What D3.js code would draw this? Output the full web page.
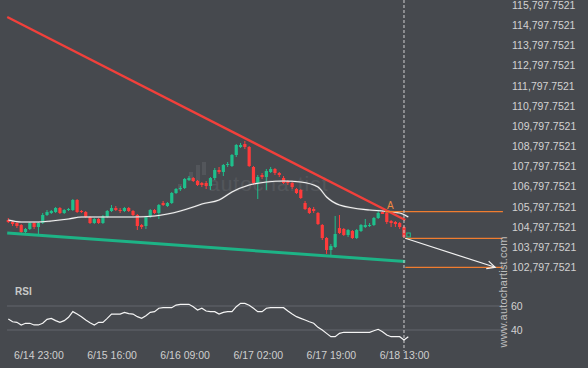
<!DOCTYPE html>
<html><head><meta charset="utf-8">
<script src="https://cdn.jsdelivr.net/npm/d3@7"></script>
<style>html,body{margin:0;padding:0;background:#46494e;}svg{display:block;}</style>
</head><body><svg id="c" width="588" height="368"></svg>
<script>
// ---- data ----
const openV = [105142,105043,104993,104894,104547,104696,104993,104795,104993,105390,
105489,105538,105737,105489,105637,105637,106133,105588,105538,105290,
104993,105191,104993,105290,105588,105737,105637,105588,105737,105588,
105390,104894,104844,105290,105637,105489,105984,105836,105984,106480,
106678,106728,107124,107223,107075,106976,106976,106827,107223,107620,
107521,107868,107818,108363,108760,108908,108760,107769,106976,107372,
107273,107521,107669,107471,107223,107075,106976,106678,106629,105984,
105737,105687,105489,104894,104250,103655,103804,104745,104696,104398,
104597,104250,104597,104795,104844,104894,105241,105538,105489,105092,
105043,104993,104795];
const highV = [105241,105092,105043,104944,104745,105043,105043,105043,105489,105637,
105637,105786,105786,105687,105737,106183,106183,105637,105588,105340,
105241,105241,105390,105637,105885,105836,105737,105786,105786,105637,
105439,104944,105340,105687,105687,105935,106083,106034,106529,106728,
106827,107223,107322,107273,107124,107025,107075,107273,107719,107769,
107917,108016,108413,108908,108958,109057,108809,107818,107372,107471,
107669,107769,107719,107521,107322,107124,107025,106728,106678,106083,
105786,105786,105538,104944,104299,103952,105340,105390,104745,104696,
104646,104696,104944,105191,104993,105290,105588,105588,105538,105142,
105092,105043,104844];
const lowV = [104993,104844,104745,104448,104448,104646,104696,104448,104944,105340,
105439,105489,105439,105439,105588,105588,105489,105489,105241,104944,
104944,104944,104944,105241,105538,105588,105489,105538,105538,105340,
104646,104696,104696,105241,105439,105191,105836,105786,105935,106430,
106579,106678,107075,107025,106827,106777,106678,106629,107124,107422,
107322,107769,107769,108264,108710,108661,107769,106876,106183,107174,
106629,107471,107372,107273,106926,106876,106678,106430,106183,105637,
105439,105489,104894,104151,103457,103407,103754,104448,104349,104299,
104200,104200,104547,104745,104795,104844,105191,105439,104944,104795,
104795,104696,104250];
const closeV = [105043,104944,104844,104547,104696,104993,104795,104993,105390,105538,
105588,105737,105489,105637,105687,106133,105538,105538,105290,104993,
105191,104993,105340,105588,105737,105637,105588,105737,105588,105390,
104844,104795,105290,105637,105489,105885,105885,105984,106480,106678,
106728,107174,107223,107075,106876,106876,106827,107223,107620,107521,
107868,107917,108363,108859,108859,108760,107818,106976,107273,107273,
107570,107669,107471,107372,106976,106976,106777,106480,106232,105687,
105489,105588,104944,104250,103655,103853,104448,104498,104398,104646,
104250,104646,104894,104894,104894,105241,105489,105439,105043,104993,
104944,104795,104299];
const lastCandle = {open:104299, close:104498};   // forming candle after the cursor line

const maIdx = [0,3,7,10,14,17,21,25,29,34,37,40,43,45,49,52,56,60,64,68,72,74,77,84,87,91,93];
const maVal = [105142,105043,105043,105092,105191,105290,105290,105290,105290,105340,105439,105588,105786,105935,106133,106529,106876,107025,107075,107025,106777,106282,105885,105637,105588,105489,105290];

const rsiV = [49.2,46.9,46.4,44.2,45.6,45.6,44.2,44.2,45.6,48.9,
49.7,47.8,46.4,47.8,50.6,55.3,53.3,51.1,48.3,46.1,
44.2,46.4,46.4,49.7,53.3,53.3,53.3,54.7,53.6,53.3,
51.1,49.7,51.9,54.7,55.3,58.1,58.6,58.6,58.6,60.8,
61.4,61.4,61.4,59.4,56.7,58.1,55.8,55.3,55.3,53.3,
54.7,55.3,55.3,59.4,62.2,62.2,60.6,58.1,55.3,55.3,
58.1,58.6,58.6,58.6,58.6,55.8,53.3,51.1,49.7,48.3,
46.9,45.6,42.2,40.0,37.2,34.4,34.4,37.2,38.1,38.1,
38.1,38.1,38.1,38.1,38.1,39.4,40.6,38.6,35.8,34.4,
34.4,34.4,31.7,34.4];

const timeTickIdx = [7,24,41,58,75,92];
const timeTickLabels = ["6/14 23:00","6/15 16:00","6/16 09:00","6/17 02:00","6/17 19:00","6/18 13:00"];
const priceTicks = [102797.7521,103797.7521,104797.7521,105797.7521,106797.7521,107797.7521,108797.7521,
  109797.7521,110797.7521,111797.7521,112797.7521,113797.7521,114797.7521,115797.7521];
const rsiTicks = [40,60];

const resistance = [[-0.25,115202],[92.3,105142]];
const support = [[-0.25,104498],[92.3,103085]];
const levelA = {from:87.6, to:115, value:105553, label:"A", labelAt:88.8};
const levelEntry = {from:92.3, to:115, value:104235};
const levelTarget = {from:92.3, to:115, value:102797.7521};
const forecast = [[92.3,104235],[113.2,102797.7521]];
const cursorIdx = 92.0;

// ---- scales ----
const svg = d3.select("#c");
const x = d3.scaleLinear().domain([0,93]).range([8.3,408.3]);
const y = d3.scaleLinear().domain([102797.7521,115797.7521]).range([267.3,5]);
const r = d3.scaleLinear().domain([40,60]).range([330,306]);
const font = "'Liberation Sans', Arial, sans-serif";
const GREEN = "#1fbf8c", RED = "#ff3b3b", ORANGE = "#f07d30";

svg.append("rect").attr("width",588).attr("height",368).attr("fill","#46494e");

// watermark
const wm = svg.append("g").attr("fill","#ffffff").attr("opacity",0.07);
[[178,184,4,6],[189,172,4,9],[196,165,4,20],[202,162,4,13]].forEach(b=>
  wm.append("rect").attr("x",b[0]).attr("y",b[1]).attr("width",b[2]).attr("height",b[3]));
wm.append("text").attr("x",208).attr("y",191).attr("font-family",font).attr("font-size",21)
  .attr("letter-spacing",1).text("autochartist");

// RSI grid
svg.append("g").selectAll("line").data(rsiTicks).join("line")
  .attr("x1",7).attr("x2",504).attr("y1",d=>r(d)).attr("y2",d=>r(d))
  .attr("stroke","#62676d").attr("stroke-width",1);

// candles
const idx = d3.range(openV.length);
const cg = svg.append("g");
cg.selectAll("line").data(idx).join("line")
  .attr("x1",i=>x(i)).attr("x2",i=>x(i))
  .attr("y1",i=>y(highV[i])).attr("y2",i=>y(lowV[i]))
  .attr("stroke",i=>closeV[i]>=openV[i]?GREEN:RED).attr("stroke-width",1);
cg.selectAll("rect").data(idx).join("rect")
  .attr("x",i=>x(i)-1.6).attr("width",3.2)
  .attr("y",i=>y(Math.max(openV[i],closeV[i])))
  .attr("height",i=>Math.max(1,Math.abs(y(openV[i])-y(closeV[i]))))
  .attr("fill",i=>closeV[i]>=openV[i]?GREEN:RED);
svg.append("rect").attr("x",x(93)-1.5).attr("width",3.5)
  .attr("y",y(lastCandle.close)).attr("height",y(lastCandle.open)-y(lastCandle.close))
  .attr("fill","none").attr("stroke",GREEN).attr("stroke-width",1);

// moving average
const line = d3.line().curve(d3.curveMonotoneX);
svg.append("path").attr("d",line(maIdx.map((d,k)=>[x(d),y(maVal[k])])))
  .attr("fill","none").attr("stroke","#9a9a9a").attr("stroke-width",2.2).attr("opacity",0.35);
svg.append("path").attr("d",line(maIdx.map((d,k)=>[x(d),y(maVal[k])])))
  .attr("fill","none").attr("stroke","#f4f4f4").attr("stroke-width",1.1);

// trend lines
svg.append("line").attr("x1",x(support[0][0])).attr("y1",y(support[0][1]))
  .attr("x2",x(support[1][0])).attr("y2",y(support[1][1]))
  .attr("stroke","#1db386").attr("stroke-width",3);
svg.append("line").attr("x1",x(resistance[0][0])).attr("y1",y(resistance[0][1]))
  .attr("x2",x(resistance[1][0])).attr("y2",y(resistance[1][1]))
  .attr("stroke","#f2403b").attr("stroke-width",2.4);

// orange levels
[levelA, levelEntry, levelTarget].forEach(L=>{
  svg.append("line").attr("x1",x(L.from)).attr("x2",x(L.to))
    .attr("y1",y(L.value)).attr("y2",y(L.value))
    .attr("stroke",ORANGE).attr("stroke-width",1.3);
});
svg.append("text").attr("x",x(levelA.labelAt)).attr("y",y(levelA.value)-3)
  .attr("text-anchor","middle").attr("font-family",font).attr("font-size",10)
  .attr("fill","#ef8a42").text(levelA.label);

// forecast arrow
const ax1 = x(forecast[0][0]), ay1 = y(forecast[0][1]), ax2 = x(forecast[1][0]), ay2 = y(forecast[1][1]);
const ang = Math.atan2(ay2-ay1, ax2-ax1);
const ah = 9, spread = 0.45;
svg.append("line").attr("x1",ax1).attr("y1",ay1).attr("x2",ax2).attr("y2",ay2)
  .attr("stroke","#f2f2f2").attr("stroke-width",1.2);
svg.append("path").attr("d",
  `M${ax2-ah*Math.cos(ang-spread)},${ay2-ah*Math.sin(ang-spread)}L${ax2},${ay2}L${ax2-ah*Math.cos(ang+spread)},${ay2-ah*Math.sin(ang+spread)}`)
  .attr("fill","none").attr("stroke","#f2f2f2").attr("stroke-width",1.2);

// cursor line
svg.append("line").attr("x1",x(cursorIdx)).attr("x2",x(cursorIdx)).attr("y1",0).attr("y2",351)
  .attr("stroke","#d0d0d0").attr("stroke-width",1).attr("stroke-dasharray","3,2");

// RSI line
svg.append("path").attr("d",d3.line()(rsiV.map((v,i)=>[x(i),r(v)])))
  .attr("fill","none").attr("stroke","#f4f4f4").attr("stroke-width",1.2);
svg.append("text").attr("x",15).attr("y",295).attr("font-family",font).attr("font-size",10)
  .attr("font-weight","bold").attr("fill","#c9c9c9").text("RSI");

// price axis
const ya = svg.append("g").attr("transform","translate(512,0)")
  .call(d3.axisRight(y).tickValues(priceTicks).tickFormat(d3.format(",.4f")).tickSize(0).tickPadding(0));
ya.select(".domain").remove();
ya.selectAll("text").attr("font-family",font).attr("font-size",10.5).attr("fill","#d2d2d2");

// RSI axis
const ra = svg.append("g").attr("transform","translate(511,0)")
  .call(d3.axisRight(r).tickValues(rsiTicks).tickSize(0).tickPadding(0));
ra.select(".domain").remove();
ra.selectAll("text").attr("font-family",font).attr("font-size",10.5).attr("fill","#d2d2d2");

// time axis
const ta = svg.append("g").attr("transform","translate(0,352)")
  .call(d3.axisBottom(x).tickValues(timeTickIdx).tickFormat((d,i)=>timeTickLabels[i]).tickSize(0).tickPadding(0));
ta.select(".domain").remove();
ta.selectAll("text").attr("font-family",font).attr("font-size",10.5).attr("fill","#cfcfcf");

// vertical site text
svg.append("text").attr("transform","translate(507,292) rotate(-90)")
  .attr("text-anchor","middle").attr("font-family",font).attr("font-size",11)
  .attr("letter-spacing",0.2).attr("fill","#bdbdbd").text("www.autochartist.com");
</script></body></html>
